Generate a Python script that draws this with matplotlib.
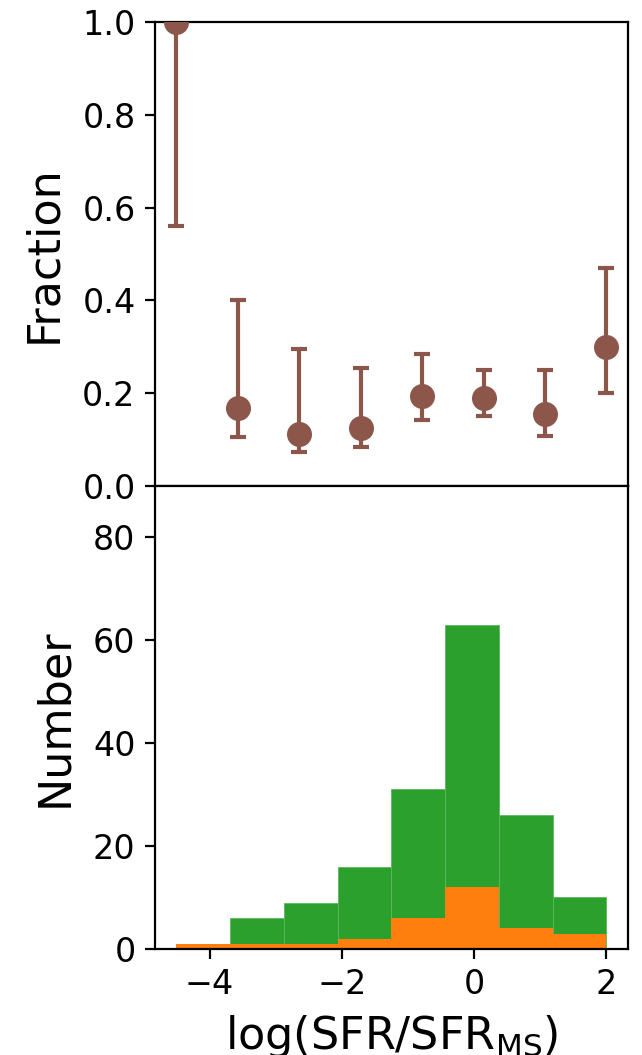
import numpy as np
import matplotlib
matplotlib.use("Agg")
import matplotlib.pyplot as plt

# bins in log(SFR/SFR_MS)
bin_edges = np.linspace(-4.5, 2.0, 9)
n_all = [1, 6, 9, 16, 31, 63, 26, 10]
n_sub = [1, 1, 1, 2, 6, 12, 4, 3]

# fraction points
frac_x = [-4.5, -3.571, -2.643, -1.714, -0.786, 0.143, 1.071, 2.0]
frac = [1.0, 0.167, 0.111, 0.125, 0.194, 0.190, 0.154, 0.300]
frac_lo = [0.56, 0.104, 0.073, 0.083, 0.142, 0.151, 0.108, 0.200]
frac_hi = [1.0, 0.400, 0.295, 0.253, 0.283, 0.250, 0.250, 0.469]

fig, (ax1, ax2) = plt.subplots(2, 1, sharex=True, figsize=(3.21, 5.275), dpi=200)
fig.subplots_adjust(left=0.2414, right=0.978, top=0.979, bottom=0.1005, hspace=0)

yerr = [np.array(frac) - np.array(frac_lo), np.array(frac_hi) - np.array(frac)]
ax1.errorbar(frac_x, frac, yerr=yerr, fmt='o', color='#8c564b', ms=8,
             elinewidth=1.5, capsize=3, capthick=1.5, zorder=3)
ax1.set_ylim(0, 1)
ax1.set_yticks([0.0, 0.2, 0.4, 0.6, 0.8, 1.0])
ax1.set_ylabel('Fraction', fontsize=16, labelpad=6)
ax1.tick_params(labelsize=12)

widths = np.diff(bin_edges)
ax2.bar(bin_edges[:-1], n_all, width=widths, align='edge', color='#2ca02c',
        edgecolor='#5cb85c', linewidth=0.3)
ax2.bar(bin_edges[:-1], n_sub, width=widths, align='edge', color='#ff7f0e')
ax2.set_ylim(0, 90)
ax2.set_yticks([0, 20, 40, 60, 80])
ax2.set_ylabel('Number', fontsize=16, labelpad=6)
ax2.set_xlabel(r'log(SFR/SFR$_{\rm MS}$)', fontsize=16)
ax2.set_xticks([-4, -2, 0, 2])
ax2.set_xlim(-4.825, 2.325)
ax2.tick_params(labelsize=12)

fig.savefig('out.png')
